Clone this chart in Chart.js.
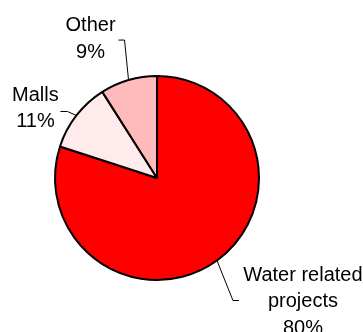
<!DOCTYPE html>
<html lang="en">
<head>
  <meta charset="UTF-8" />
  <title>Projects pie</title>
  <script src="https://cdn.jsdelivr.net/npm/chart.js"></script>
  <style>
    html, body { margin: 0; padding: 0; background: #fff; }
    .wrap { width: 363px; height: 332px; }
  </style>
</head>
<body>
  <div class="wrap"><canvas id="pie" width="363" height="332"></canvas></div>

  <script>
    // data
    const categories = ['Water related projects', 'Malls', 'Other'];
    const labelLines = [['Water related', 'projects'], ['Malls'], ['Other']];
    const shares = [80, 11, 9];
    const sliceColors = ['#FF0000', '#FFEBEB', '#FFBBBB'];

    // where each label and its leader line go, relative to the slice edge
    const labelPlace = [
      { elbow: [16, 40], tail: 6, text: [86, 20] },
      { elbow: [-9, -4], tail: -7, text: [-41, -14.5] },
      { elbow: [-4, -40], tail: -6, text: [-38, -49] }
    ];

    const calloutPlugin = {
      id: 'callouts',
      afterDatasetsDraw(chart) {
        const ctx = chart.ctx;
        const arcs = chart.getDatasetMeta(0).data;
        ctx.save();
        ctx.font = '20px "Liberation Sans", Arial, sans-serif';
        ctx.fillStyle = '#000';
        ctx.strokeStyle = '#000';
        ctx.lineWidth = 1;
        ctx.textAlign = 'center';
        ctx.textBaseline = 'alphabetic';
        arcs.forEach((arc, i) => {
          const p = arc.getProps(['x', 'y', 'startAngle', 'endAngle', 'outerRadius'], true);
          const mid = (p.startAngle + p.endAngle) / 2;
          const ax = p.x + Math.cos(mid) * p.outerRadius;
          const ay = p.y + Math.sin(mid) * p.outerRadius;
          const pl = labelPlace[i];
          const ex = ax + pl.elbow[0], ey = ay + pl.elbow[1];
          ctx.beginPath();
          ctx.moveTo(ax, ay);
          ctx.lineTo(ex, ey);
          ctx.lineTo(ex + pl.tail, ey);
          ctx.stroke();
          const lines = labelLines[i].concat([shares[i] + '%']);
          const tx = ax + pl.text[0], ty = ay + pl.text[1];
          lines.forEach((s, k) => ctx.fillText(s, tx, ty + k * 26.5));
        });
        ctx.restore();
      }
    };

    new Chart(document.getElementById('pie'), {
      type: 'pie',
      data: {
        labels: categories,
        datasets: [{
          data: shares,
          backgroundColor: sliceColors,
          borderColor: '#000',
          borderWidth: 2,
          radius: 102
        }]
      },
      options: {
        responsive: false,
        animation: false,
        layout: { padding: { left: 0, right: 49, top: 24, bottom: 0 } },
        plugins: {
          legend: { display: false },
          tooltip: { enabled: false }
        }
      },
      plugins: [calloutPlugin]
    });
  </script>
</body>
</html>
